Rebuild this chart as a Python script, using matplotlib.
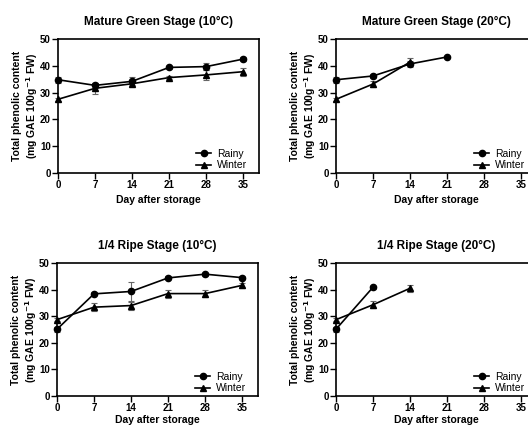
import matplotlib
matplotlib.use("Agg")
import matplotlib.pyplot as plt

plt.rcParams['font.family'] = ['Liberation Sans', 'DejaVu Sans']

days = [0, 7, 14, 21, 28, 35]
xticks = [0, 7, 14, 21, 28, 35]
yticks = [0, 10, 20, 30, 40, 50]

titles = ["Mature Green Stage (10\u00b0C)", "Mature Green Stage (20\u00b0C)",
          "1/4 Ripe Stage (10\u00b0C)", "1/4 Ripe Stage (20\u00b0C)"]

# Mature green 10C
mg10_rainy = [34.8, 32.7, 34.2, 39.4, 39.7, 42.5]
mg10_rainy_err = [1.2, 0.8, 1.5, 0.6, 1.2, 0.6]
mg10_winter = [27.5, 31.6, 33.3, 35.6, 36.6, 37.8]
mg10_winter_err = [0.5, 2.0, 0.8, 0.5, 1.8, 1.5]
# Mature green 20C
mg20_rainy = [34.8, 36.2, 40.7, 43.3]
mg20_rainy_err = [1.2, 0.6, 1.2, 0.5]
mg20_winter = [27.5, 33.2, 41.4]
mg20_winter_err = [0.5, 1.2, 1.5]
# 1/4 ripe 10C
r10_rainy = [25.1, 38.4, 39.3, 44.4, 45.8, 44.5]
r10_rainy_err = [1.0, 0.6, 3.5, 0.6, 0.5, 0.6]
r10_winter = [28.7, 33.4, 34.0, 38.5, 38.5, 41.6]
r10_winter_err = [0.5, 1.4, 1.5, 1.5, 1.4, 1.0]
# 1/4 ripe 20C
r20_rainy = [25.1, 40.9]
r20_rainy_err = [1.0, 0.5]
r20_winter = [28.7, 34.3, 40.5]
r20_winter_err = [0.5, 1.4, 1.4]

panels = [
    (mg10_rainy, mg10_rainy_err, mg10_winter, mg10_winter_err),
    (mg20_rainy, mg20_rainy_err, mg20_winter, mg20_winter_err),
    (r10_rainy, r10_rainy_err, r10_winter, r10_winter_err),
    (r20_rainy, r20_rainy_err, r20_winter, r20_winter_err),
]

positions = [
    [58/528, 1-173/425, 201/528, 134/425],
    [336/528, 1-173/425, 201/528, 134/425],
    [57/528, 1-396/425, 201/528, 133/425],
    [336/528, 1-396/425, 201/528, 133/425],
]

fig = plt.figure(figsize=(5.28, 4.25), dpi=100)

for i, (pos, title, (ry, re, wy, we)) in enumerate(zip(positions, titles, panels)):
    ax = fig.add_axes(pos)
    for yv, ev, mk, lab in ((ry, re, 'o', 'Rainy'), (wy, we, '^', 'Winter')):
        c = ax.errorbar(days[:len(yv)], yv, yerr=ev, color='black', ecolor='#666666',
                        elinewidth=0.8, capsize=2.5, capthick=0.8, marker=mk, markersize=4.5,
                        linewidth=1.2, label=lab, zorder=3)
        for art in c.get_children():
            art.set_clip_on(False)
    ax.set_xlim(0, 38)
    ax.set_ylim(0, 50)
    ax.set_xticks(xticks)
    ax.set_yticks(yticks)
    ax.tick_params(direction='out', length=4, width=1.0, labelsize=7, pad=1.2)
    for lab in ax.get_xticklabels() + ax.get_yticklabels():
        lab.set_fontweight('bold')
    for sp in ax.spines.values():
        sp.set_linewidth(1.2)
    ax.set_title(title, fontsize=8.5, fontweight='bold', pad=10)
    ax.set_xlabel("Day after storage", fontsize=7.5, fontweight='bold',
                  labelpad=3.5 if i < 2 else 1.5)
    ax.set_ylabel("Total phenolic content\n(mg GAE 100g$^{\\mathbf{-1}}$ FW)",
                  fontsize=7.5, fontweight='bold', linespacing=1.2)
    ax.yaxis.set_label_coords(-0.088, 0.5)
    h, l = ax.get_legend_handles_labels()
    h = [hh[0] for hh in h]
    ax.legend(h, l, loc='lower right', frameon=False, fontsize=7.5,
              handlelength=1.5, handletextpad=0.5, labelspacing=0.1,
              borderaxespad=0.0, bbox_to_anchor=(0.96, -0.01))

fig.savefig("out.png", dpi=100)
